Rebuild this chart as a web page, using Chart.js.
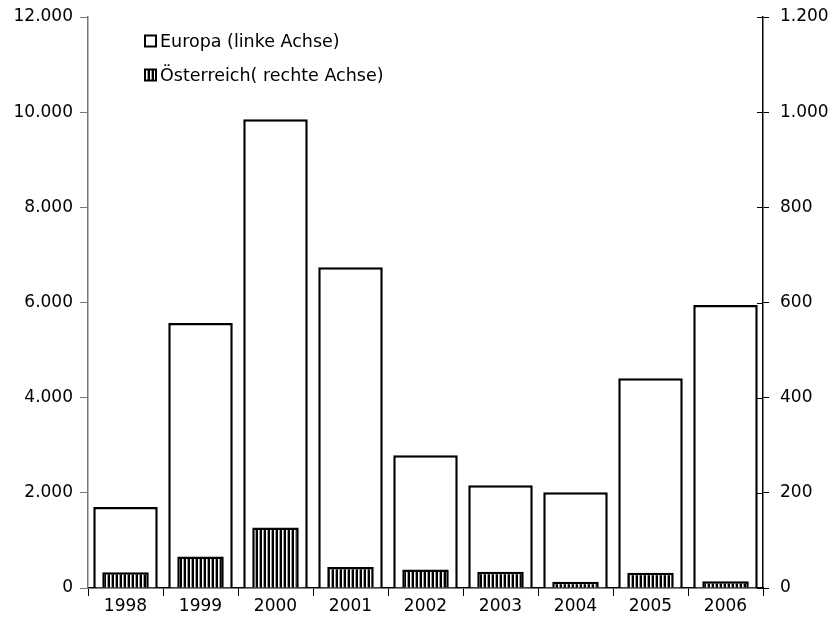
<!DOCTYPE html>
<html>
<head>
<meta charset="utf-8">
<script src="https://cdn.jsdelivr.net/npm/chart.js@4/dist/chart.umd.min.js"></script>
<style>
  body { margin: 0; background: #fff; }
  #wrap { width: 835px; height: 629px; }
</style>
</head>
<body>
<div id="wrap"><canvas id="chart"></canvas></div>
<script>
const years = ["1998", "1999", "2000", "2001", "2002", "2003", "2004", "2005", "2006"];
const europa = [1700, 5570, 9850, 6740, 2790, 2160, 2010, 4410, 5950];
const oesterreich = [33, 66, 127, 44, 39, 34, 13, 32, 14];
const leftTicks = [0, 2000, 4000, 6000, 8000, 10000, 12000];
const rightTicks = [0, 200, 400, 600, 800, 1000, 1200];
const legendNames = ["Europa (linke Achse)", "Österreich( rechte Achse)"];

const FONT = "'DejaVu Sans', sans-serif";

// vertical stripe fill
function stripes() {
  let c = document.createElement("canvas");
  c.width = 4; c.height = 4;
  let g = c.getContext("2d");
  g.fillStyle = "#ffffff"; g.fillRect(0, 0, 4, 4);
  g.fillStyle = "#000000"; g.fillRect(0, 0, 2, 4);
  g.fillStyle = "#a0a0a0"; g.fillRect(3, 0, 1, 4);
  return g.createPattern(c, "repeat");
}
const stripePattern = stripes();

function fmt(v) {
  return String(v).replace(/\B(?=(\d{3})+(?!\d))/g, ".");
}

// inner half of the right axis ticks + legend
const extras = {
  id: "extras",
  afterDraw(chart) {
    let ctx = chart.ctx;
    let y1 = chart.scales.y1;
    ctx.save();
    ctx.strokeStyle = "#000";
    ctx.lineWidth = 1;
    rightTicks.forEach(t => {
      let y = Math.round(y1.getPixelForValue(t)) + 0.5;
      ctx.beginPath();
      ctx.moveTo(y1.left - 6, y);
      ctx.lineTo(y1.left, y);
      ctx.stroke();
    });

    // legend
    let lx = 145, ly = [41, 75];
    ctx.font = "17.5px " + FONT;
    ctx.textBaseline = "middle";
    legendNames.forEach((name, i) => {
      let top = ly[i] - 5.5;
      ctx.fillStyle = i == 0 ? "#fff" : stripePattern;
      ctx.fillRect(lx, top, 11, 11);
      ctx.lineWidth = 2;
      ctx.strokeStyle = "#000";
      ctx.strokeRect(lx, top, 11, 11);
      ctx.fillStyle = "#000";
      ctx.fillText(name, lx + 15, ly[i] + 1);
    });
    ctx.restore();
  }
};

// let the top tick label sit above the plot without pushing it down
function fitY(width) {
  return s => {
    s.width = width;
    s.paddingTop = 0;
  };
}

new Chart(document.getElementById("chart"), {
  type: "bar",
  data: {
    labels: years,
    datasets: [
      {
        label: legendNames[0],
        data: europa,
        yAxisID: "y",
        backgroundColor: "#ffffff",
        borderColor: "#000000",
        borderWidth: 2.5,
        grouped: false,
        barPercentage: 0.86,
        categoryPercentage: 1,
        order: 1
      },
      {
        label: legendNames[1],
        data: oesterreich,
        yAxisID: "y1",
        backgroundColor: stripePattern,
        borderColor: "#000000",
        borderWidth: 2.5,
        grouped: false,
        barPercentage: 0.62,
        categoryPercentage: 1,
        order: 0
      }
    ]
  },
  options: {
    responsive: true,
    maintainAspectRatio: false,
    animation: false,
    layout: { padding: { top: 17, left: 0, right: 0, bottom: 0 } },
    plugins: {
      legend: { display: false },
      tooltip: { enabled: false }
    },
    scales: {
      x: {
        grid: {
          offset: true,
          drawOnChartArea: false,
          tickLength: 8,
          color: "#000"
        },
        border: { color: "#000", width: 1.5 },
        ticks: {
          color: "#000",
          font: { family: FONT, size: 17 },
          padding: 0,
          maxRotation: 0
        },
        afterFit: s => { s.height = 41; }
      },
      y: {
        position: "left",
        min: 0,
        max: 12000,
        afterBuildTicks: s => { s.ticks = leftTicks.map(v => ({ value: v })); },
        grid: { drawOnChartArea: false, tickLength: 8, color: "#777" },
        border: { color: "#777", width: 1.5 },
        ticks: {
          color: "#000",
          font: { family: FONT, size: 17 },
          padding: 7,
          callback: v => fmt(v)
        },
        afterFit: fitY(88)
      },
      y1: {
        position: "right",
        min: 0,
        max: 1200,
        afterBuildTicks: s => { s.ticks = rightTicks.map(v => ({ value: v })); },
        grid: { drawOnChartArea: false, tickLength: 6, color: "#000" },
        border: { color: "#000", width: 1.5 },
        ticks: {
          color: "#000",
          font: { family: FONT, size: 17 },
          padding: 11,
          callback: v => fmt(v)
        },
        afterFit: fitY(72)
      }
    }
  },
  plugins: [extras]
});
</script>
</body>
</html>
